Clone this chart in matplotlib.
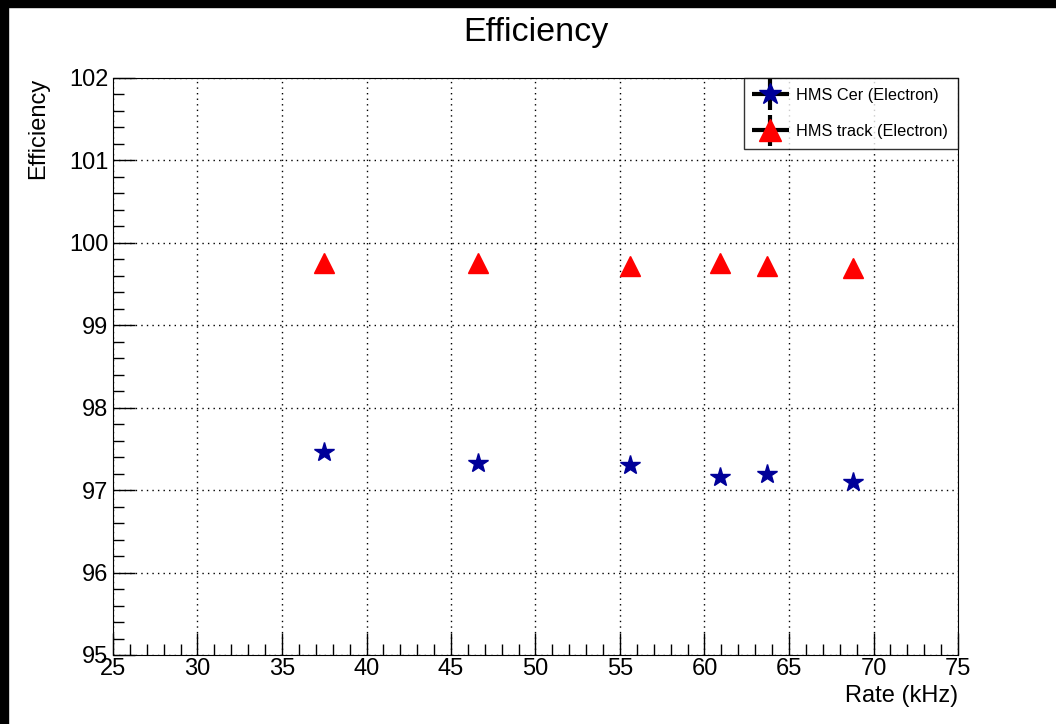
import matplotlib
matplotlib.use("Agg")
import matplotlib.pyplot as plt
from matplotlib.ticker import MultipleLocator
from matplotlib.patches import Rectangle
from matplotlib.legend_handler import HandlerErrorbar
from matplotlib.container import ErrorbarContainer

# Rate (kHz) for each run
rate = [37.5, 46.6, 55.6, 60.9, 63.7, 68.8]
# HMS Cherenkov efficiency (electron)
cer_eff = [97.46, 97.33, 97.30, 97.16, 97.20, 97.10]
# HMS tracking efficiency (electron)
track_eff = [99.76, 99.76, 99.72, 99.76, 99.72, 99.69]

plt.rcParams['font.family'] = ['Liberation Sans', 'DejaVu Sans']

fig = plt.figure(figsize=(10.56, 7.24), dpi=100)
ax = fig.add_axes([113 / 1056, 1 - 655 / 724, 845 / 1056, 577 / 724])

zeros = [0] * len(rate)
ax.errorbar(rate, cer_eff, xerr=zeros, yerr=zeros, fmt='*', color='#000099',
            ms=15, ecolor='black', elinewidth=3, label='HMS Cer (Electron)', zorder=3)
ax.errorbar(rate, track_eff, xerr=zeros, yerr=zeros, fmt='^', color='red',
            ms=14, ecolor='black', elinewidth=3, label='HMS track (Electron)', zorder=3)

ax.set_xlim(25, 75)
ax.set_ylim(95, 102)
ax.xaxis.set_major_locator(MultipleLocator(5))
ax.xaxis.set_minor_locator(MultipleLocator(1))
ax.yaxis.set_major_locator(MultipleLocator(1))
ax.yaxis.set_minor_locator(MultipleLocator(0.2))
ax.tick_params(which='both', direction='in', top=False, right=False,
               labelsize=17, width=1)
ax.tick_params(which='major', length=16)
ax.tick_params(which='minor', length=8)
ax.tick_params(axis='x', pad=2)
ax.grid(True, which='major', linestyle=(0, (1, 3)), color='black', linewidth=1)

ax.set_title('Efficiency', fontsize=24.5, pad=27)
ax.set_xlabel('Rate (kHz)', fontsize=17, loc='right', labelpad=4)
ax.set_ylabel('Efficiency', fontsize=17, loc='top', labelpad=14)

leg = ax.legend(loc='upper right', bbox_to_anchor=(1.0, 1.0), fontsize=11.7,
                frameon=True, fancybox=False, edgecolor='black',
                borderaxespad=0, handlelength=2.0, handletextpad=0.6,
                labelspacing=1.3, borderpad=0.6, markerscale=1.1,
                handler_map={ErrorbarContainer: HandlerErrorbar(xerr_size=1.15, yerr_size=0.95)})
leg.get_frame().set_linewidth(1)

# black border strips along the top and left edges
fig.patches.append(Rectangle((0, 1 - 7 / 724), 1, 7 / 724, transform=fig.transFigure,
                             color='black', zorder=10))
fig.patches.append(Rectangle((0, 0), 8 / 1056, 1, transform=fig.transFigure,
                             color='black', zorder=10))

fig.savefig('out.png', dpi=100)
